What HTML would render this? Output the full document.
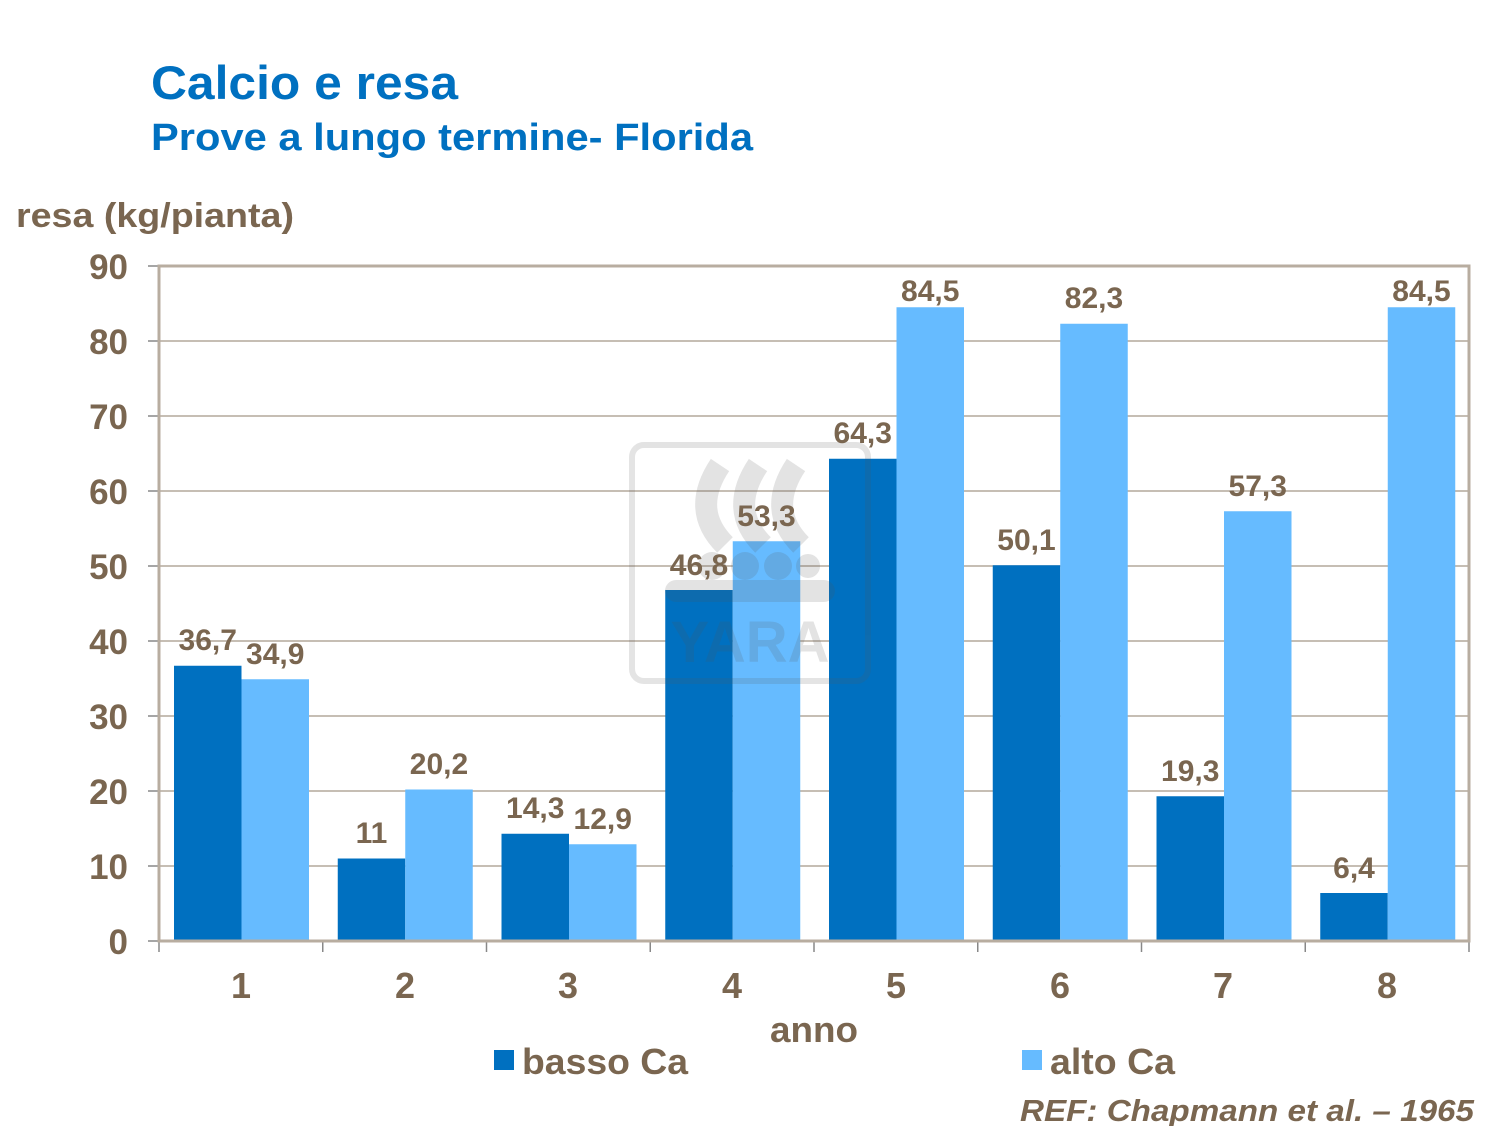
<!DOCTYPE html>
<html><head><meta charset="utf-8"><style>
html,body{margin:0;padding:0;background:#fff}
svg{display:block}
text{font-family:"Liberation Sans",Arial,sans-serif;font-weight:bold}
</style></head><body>
<svg width="1500" height="1126" viewBox="0 0 1500 1126" xmlns="http://www.w3.org/2000/svg">
<text x="151" y="99" font-size="47" fill="#0070C0" textLength="307" lengthAdjust="spacingAndGlyphs">Calcio e resa</text>
<text x="151" y="150" font-size="38" fill="#0070C0" textLength="602" lengthAdjust="spacingAndGlyphs">Prove a lungo termine- Florida</text>
<text x="16" y="227" font-size="34" fill="#7a6650" textLength="278" lengthAdjust="spacingAndGlyphs">resa (kg/pianta)</text>
<g stroke="#b3a89b" stroke-width="1.5">
<line x1="159" y1="341" x2="1469" y2="341"/><line x1="159" y1="416" x2="1469" y2="416"/>
<line x1="159" y1="491" x2="1469" y2="491"/><line x1="159" y1="566" x2="1469" y2="566"/>
<line x1="159" y1="641" x2="1469" y2="641"/><line x1="159" y1="716" x2="1469" y2="716"/>
<line x1="159" y1="791" x2="1469" y2="791"/><line x1="159" y1="866" x2="1469" y2="866"/>
</g>
<g stroke="#888" stroke-width="1.5">
<line x1="148" y1="266" x2="159" y2="266"/><line x1="148" y1="341" x2="159" y2="341"/><line x1="148" y1="416" x2="159" y2="416"/><line x1="148" y1="491" x2="159" y2="491"/><line x1="148" y1="566" x2="159" y2="566"/><line x1="148" y1="641" x2="159" y2="641"/><line x1="148" y1="716" x2="159" y2="716"/><line x1="148" y1="791" x2="159" y2="791"/><line x1="148" y1="866" x2="159" y2="866"/><line x1="148" y1="941" x2="159" y2="941"/>
<line x1="159" y1="941" x2="159" y2="952"/><line x1="322.75" y1="941" x2="322.75" y2="952"/><line x1="486.5" y1="941" x2="486.5" y2="952"/><line x1="650.25" y1="941" x2="650.25" y2="952"/><line x1="814" y1="941" x2="814" y2="952"/><line x1="977.75" y1="941" x2="977.75" y2="952"/><line x1="1141.5" y1="941" x2="1141.5" y2="952"/><line x1="1305.25" y1="941" x2="1305.25" y2="952"/><line x1="1469" y1="941" x2="1469" y2="952"/>
</g>
<g fill="#0070C0">
<rect x="174" y="665.75" width="67.5" height="275.25"/>
<rect x="337.75" y="858.5" width="67.5" height="82.5"/>
<rect x="501.5" y="833.75" width="67.5" height="107.25"/>
<rect x="665.25" y="590" width="67.5" height="351"/>
<rect x="829" y="458.75" width="67.5" height="482.25"/>
<rect x="992.75" y="565.25" width="67.5" height="375.75"/>
<rect x="1156.5" y="796.25" width="67.5" height="144.75"/>
<rect x="1320.25" y="893" width="67.5" height="48"/>
</g>
<g fill="#66BBFF">
<rect x="241.5" y="679.25" width="67.5" height="261.75"/>
<rect x="405.25" y="789.5" width="67.5" height="151.5"/>
<rect x="569" y="844.25" width="67.5" height="96.75"/>
<rect x="732.75" y="541.25" width="67.5" height="399.75"/>
<rect x="896.5" y="307.25" width="67.5" height="633.75"/>
<rect x="1060.25" y="323.75" width="67.5" height="617.25"/>
<rect x="1224" y="511.25" width="67.5" height="429.75"/>
<rect x="1387.75" y="307.25" width="67.5" height="633.75"/>
</g>
<g opacity="0.16" fill="none" stroke="#555">
<rect x="632" y="445" width="236" height="236" rx="12" stroke-width="6"/>
<path d="M720 465 Q690 510 725 545 M758 465 Q728 510 763 545 M796 465 Q766 510 801 545" stroke-width="22"/>
</g>
<g opacity="0.16" fill="#555">
<circle cx="712" cy="566" r="14"/><circle cx="745" cy="566" r="14"/><circle cx="778" cy="566" r="14"/><circle cx="808" cy="566" r="12"/>
<rect x="665" y="580" width="170" height="22" rx="11"/>
<text x="750" y="662" font-size="58" text-anchor="middle">YARA</text>
</g>
<rect x="159" y="266" width="1310" height="675" fill="none" stroke="#b8ada0" stroke-width="3"/>
<g font-size="30" fill="#7a6650" text-anchor="middle">
<text x="207.75" y="650">36,7</text><text x="275.25" y="664">34,9</text>
<text x="371.5" y="843">11</text><text x="439" y="774">20,2</text>
<text x="535.25" y="818">14,3</text><text x="602.75" y="829">12,9</text>
<text x="699" y="575">46,8</text><text x="766.5" y="526">53,3</text>
<text x="862.75" y="443">64,3</text><text x="930.25" y="301">84,5</text>
<text x="1026.5" y="550">50,1</text><text x="1094" y="308">82,3</text>
<text x="1190.25" y="781">19,3</text><text x="1257.75" y="496">57,3</text>
<text x="1354" y="878">6,4</text><text x="1421.5" y="301">84,5</text>
</g>
<g font-size="35" fill="#7a6650" text-anchor="end">
<text x="128" y="279">90</text><text x="128" y="354">80</text><text x="128" y="429">70</text><text x="128" y="504">60</text><text x="128" y="579">50</text><text x="128" y="654">40</text><text x="128" y="729">30</text><text x="128" y="804">20</text><text x="128" y="879">10</text><text x="128" y="954">0</text>
</g>
<g font-size="36" fill="#7a6650" text-anchor="middle">
<text x="241" y="998">1</text><text x="405" y="998">2</text><text x="568" y="998">3</text><text x="732" y="998">4</text><text x="896" y="998">5</text><text x="1060" y="998">6</text><text x="1223" y="998">7</text><text x="1387" y="998">8</text>
<text x="814" y="1042" textLength="88" lengthAdjust="spacingAndGlyphs">anno</text>
</g>
<rect x="494" y="1050" width="20" height="20" fill="#0070C0"/>
<text x="522" y="1074" font-size="36" fill="#7a6650" textLength="166" lengthAdjust="spacingAndGlyphs">basso Ca</text>
<rect x="1022" y="1050" width="20" height="20" fill="#66BBFF"/>
<text x="1050" y="1074" font-size="36" fill="#7a6650" textLength="125" lengthAdjust="spacingAndGlyphs">alto Ca</text>
<text x="1020" y="1121" font-size="31" font-style="italic" fill="#7a6650" textLength="454" lengthAdjust="spacingAndGlyphs">REF: Chapmann et al. – 1965</text>
</svg>
</body></html>
